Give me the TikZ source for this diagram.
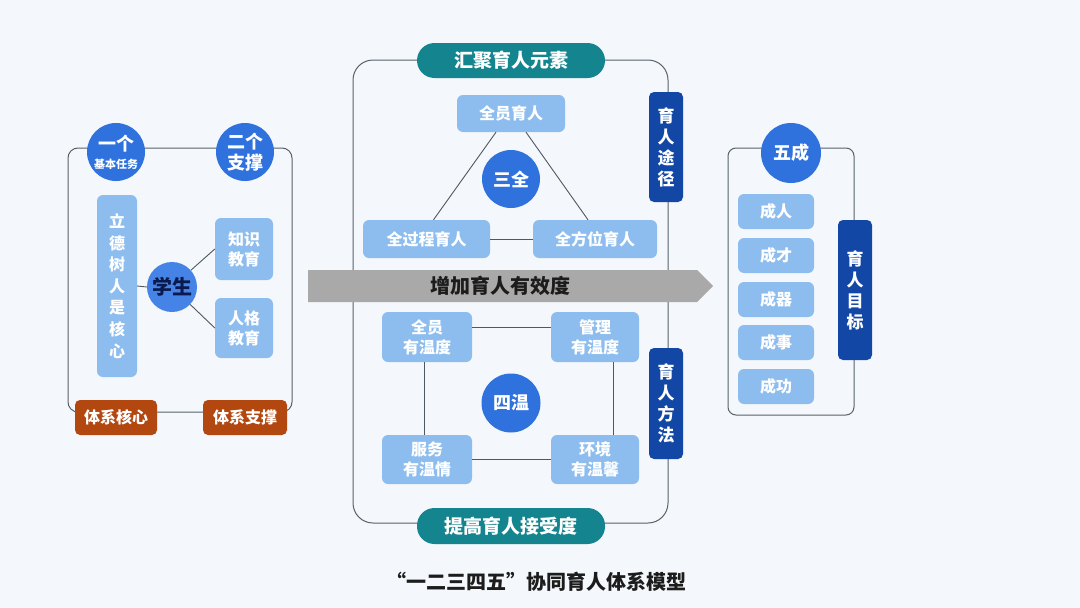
\documentclass[tikz,border=0pt]{standalone}
\usepackage{fontspec}
\setmainfont{Noto Sans CJK SC}
\usetikzlibrary{calc}
\definecolor{bg}{HTML}{F4F7FB}
\definecolor{lbox}{HTML}{8DBDEE}
\definecolor{circ}{HTML}{2F72DE}
\definecolor{stud}{HTML}{4584E6}
\definecolor{studtext}{HTML}{0A1A4E}
\definecolor{dbox}{HTML}{1247A6}
\definecolor{tealc}{HTML}{14858F}
\definecolor{rust}{HTML}{B2470F}
\definecolor{framec}{HTML}{56636B}
\definecolor{arrowgray}{HTML}{A9A9A9}
\definecolor{darktext}{HTML}{1C1C1C}
\begin{document}
\begin{tikzpicture}[x=1pt,y=-1pt,
  lb/.style={fill=lbox, rounded corners=6pt, text=white, align=center, inner sep=0pt,
    font=\bfseries\fontsize{16}{20}\selectfont},
  cb/.style={circle, fill=circ, text=white, align=center, inner sep=0pt,
    font=\bfseries\fontsize{18}{21}\selectfont},
  db/.style={fill=dbox, rounded corners=5pt, text=white, align=center, inner sep=0pt,
    font=\bfseries\fontsize{17}{21}\selectfont, minimum width=34pt},
  pill/.style={fill=tealc, rounded corners=17.5pt, text=white, align=center, inner sep=0pt,
    font=\bfseries\fontsize{19}{22}\selectfont, minimum width=188pt, minimum height=35pt},
  rb/.style={fill=rust, rounded corners=5pt, text=white, align=center, inner sep=0pt,
    font=\bfseries\fontsize{16}{20}\selectfont, minimum height=35pt},
  frm/.style={draw=framec, line width=1pt},
  ln/.style={draw=framec!90!black, line width=0.9pt}
]
\fill[bg] (0,0) rectangle (1080,608);
\useasboundingbox (0,0) rectangle (1080,608);

% ---------- left panel ----------
\draw[frm, rounded corners=10pt] (68,148) rectangle (292,412);
\node[cb, minimum size=58pt] (c1) at (116,152) {一个\\[-3pt]{\fontsize{11}{12}\selectfont 基本任务}};
\node[cb, minimum size=58pt] (c2) at (245,152) {二个\\支撑};
\node[lb, minimum width=40pt, minimum height=182pt, font=\bfseries\fontsize{16}{21.6}\selectfont] (ldsr) at (117,286) {立\\德\\树\\人\\是\\核\\心};
\node[circle, fill=stud, text=studtext, inner sep=0pt, minimum size=50pt, font=\bfseries\fontsize{20}{22}\selectfont] (xs) at (172,287) {学生};
\node[lb, minimum width=58pt, minimum height=62pt] (zs) at (244,249) {知识\\教育};
\node[lb, minimum width=58pt, minimum height=60pt] (rg) at (244,328) {人格\\教育};
\draw[ln] (ldsr.east) -- (xs.west);
\draw[ln] (xs) -- (zs.west);
\draw[ln] (xs) -- (rg.west);
\node[rb, minimum width=82pt] (txhx) at (116,417.5) {体系核心};
\node[rb, minimum width=84pt] (txzc) at (245,417.5) {体系支撑};

% ---------- middle panel ----------
\draw[frm, rounded corners=20pt] (353,60) rectangle (668,523);
\node[pill] (hj) at (511,60.5) {汇聚育人元素};
\node[lb, minimum width=108pt, minimum height=37pt] (qy) at (511,113.5) {全员育人};
\node[cb, minimum size=58pt] (sq) at (511,179) {三全};
\node[lb, minimum width=127pt, minimum height=38pt] (qgc) at (426.5,239) {全过程育人};
\node[lb, minimum width=124pt, minimum height=38pt] (qfw) at (595,239) {全方位育人};
\draw[ln] ($(qy.south)+(-15,0)$) -- ($(qgc.north)+(7,0)$);
\draw[ln] ($(qy.south)+(15,0)$) -- ($(qfw.north)+(-7,0)$);
\draw[ln] (qgc.east) -- (qfw.west);
\node[db, minimum height=110pt] (yt) at (666,147) {育\\人\\途\\径};

% arrow band
\fill[arrowgray] (308,270) -- (697,270) -- (713,286) -- (697,302) -- (308,302) -- cycle;
\node[text=darktext, font=\bfseries\fontsize{20}{22}\selectfont] (zj) at (500,286) {增加育人有效度};

\node[lb, minimum width=90pt, minimum height=50pt] (qyw) at (427,337) {全员\\有温度};
\node[lb, minimum width=88pt, minimum height=50pt] (glw) at (595,337) {管理\\有温度};
\node[lb, minimum width=90pt, minimum height=49pt] (fwq) at (427,459.5) {服务\\有温情};
\node[lb, minimum width=88pt, minimum height=49pt] (hjw) at (595,459.5) {环境\\有温馨};
\draw[ln] ($(qyw.east)+(0,-10)$) -- ($(glw.west)+(0,-10)$);
\draw[ln] (fwq.east) -- (hjw.west);
\draw[ln] ($(qyw.south)+(-3,0)$) -- ($(fwq.north)+(-3,0)$);
\draw[ln] ($(glw.south)+(18,0)$) -- ($(hjw.north)+(18,0)$);
\node[cb, minimum size=59pt] (sw) at (511,403) {四温};
\node[db, minimum height=111pt] (ff) at (666,403.5) {育\\人\\方\\法};
\node[pill, minimum height=36pt] (tg) at (511,526) {提高育人接受度};

% ---------- right panel ----------
\draw[frm, rounded corners=8pt] (728,148) rectangle (854,415);
\node[cb, minimum size=60pt] (wc) at (791,153) {五成};
\node[lb, minimum width=76pt, minimum height=35pt] (b1) at (776,211.5) {成人};
\node[lb, minimum width=76pt, minimum height=35pt] (b2) at (776,255.5) {成才};
\node[lb, minimum width=76pt, minimum height=35pt] (b3) at (776,299.5) {成器};
\node[lb, minimum width=76pt, minimum height=35pt] (b4) at (776,342.5) {成事};
\node[lb, minimum width=76pt, minimum height=35pt] (b5) at (776,386.5) {成功};
\node[db, minimum height=140pt] (mb) at (855,290) {育\\人\\目\\标};

% caption
\node[text=darktext, font=\bfseries\fontsize{20}{22}\selectfont] (cap) at (536,582) {“一二三四五”协同育人体系模型};
\end{tikzpicture}
\end{document}
